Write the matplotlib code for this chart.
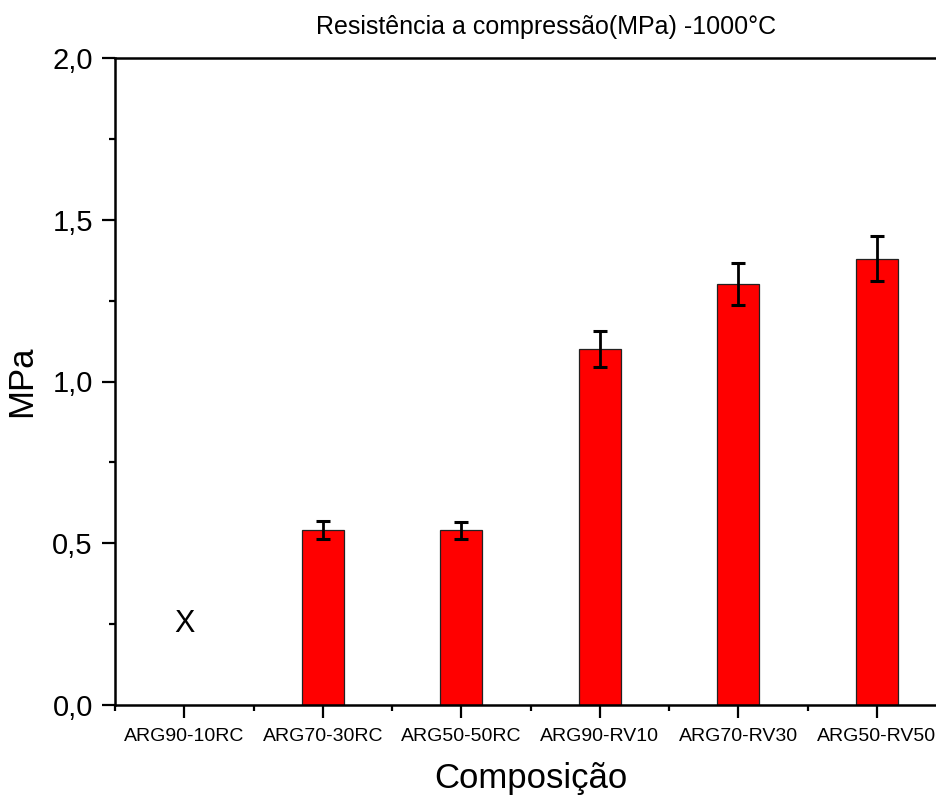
import numpy as np
import matplotlib
matplotlib.use("Agg")
import matplotlib.pyplot as plt
from matplotlib.ticker import FuncFormatter, MultipleLocator

plt.rcParams['font.family'] = ['Liberation Sans', 'DejaVu Sans']

# données
composicoes = ["ARG90-10RC", "ARG70-30RC", "ARG50-50RC", "ARG90-RV10", "ARG70-RV30", "ARG50-RV50"]
resistencia = [np.nan, 0.54, 0.54, 1.10, 1.30, 1.38]
erro = [np.nan, 0.028, 0.027, 0.055, 0.065, 0.07]
marca_ausente = "X"

fig = plt.figure(figsize=(9.37, 7.99), dpi=100)
ax = fig.add_axes([115 / 937, 94 / 799, 831 / 937, 647 / 799])

x = np.arange(len(composicoes))
vals = np.array(resistencia)
errs = np.array(erro)
ok = ~np.isnan(vals)

ax.bar(x[ok], vals[ok], width=0.30, color="#ff0000", edgecolor="#222222", linewidth=0.9, zorder=2)
ax.errorbar(x[ok], vals[ok], yerr=errs[ok], fmt="none", ecolor="black",
            elinewidth=2.0, capsize=4.7, capthick=2.2, zorder=3)

# composition sans mesure
for i in np.where(~ok)[0]:
    ax.text(x[i], 0.25, marca_ausente, ha="center", va="center", fontsize=22)

ax.set_xlim(-0.5, 5.5)
ax.set_ylim(0, 2.0)
ax.set_xticks(x)
ax.set_xticklabels(composicoes, fontsize=14)
ax.xaxis.set_minor_locator(MultipleLocator(1, offset=0.5))
ax.yaxis.set_major_locator(MultipleLocator(0.5))
ax.yaxis.set_minor_locator(MultipleLocator(0.25))
ax.yaxis.set_major_formatter(FuncFormatter(lambda v, p: f"{v:.1f}".replace(".", ",")))
ax.tick_params(axis="y", labelsize=21)

ax.tick_params(which="major", direction="out", length=9.5, width=1.6)
ax.tick_params(which="minor", direction="out", length=4.5, width=1.6)
ax.tick_params(axis="y", which="major", pad=6.5)
ax.tick_params(axis="x", which="major", pad=7)

for s in ["left", "bottom", "top"]:
    ax.spines[s].set_linewidth(1.8)
ax.spines["right"].set_visible(False)

ax.set_xlabel("Composição", fontsize=25, labelpad=12)
ax.set_ylabel("MPa", fontsize=25, labelpad=10)

fig.text(546.5 / 937, 1 - 27 / 799, "Resistência a compressão(MPa) -1000°C",
         ha="center", va="center", fontsize=18)

fig.savefig("out.png", dpi=100)
